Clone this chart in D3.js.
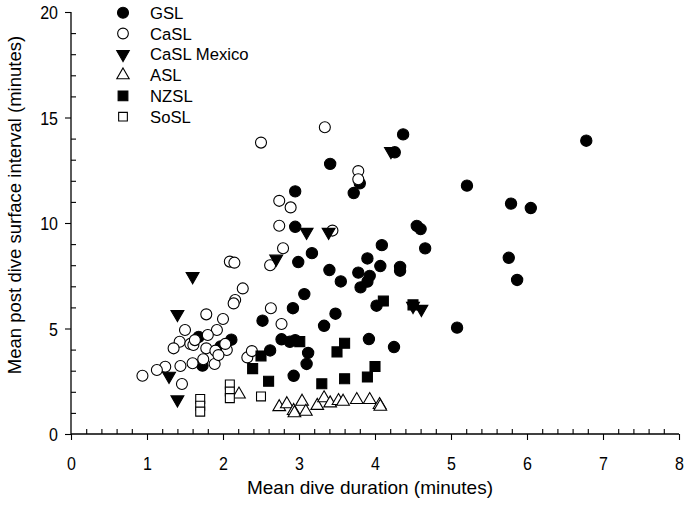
<!DOCTYPE html>
<html><head><meta charset="utf-8">
<script src="https://cdn.jsdelivr.net/npm/d3@7"></script>
<style>body{margin:0;background:#fff}svg{display:block}text{font-family:"Liberation Sans",Arial,sans-serif}</style>
</head><body>
<svg id="c" width="685" height="509"></svg>
<script>
const seriesNames = ["GSL","CaSL","CaSL Mexico","ASL","NZSL","SoSL"];
const GSL = [[6.78,13.9],[4.37,14.2],[4.26,13.35],[3.41,12.8],[5.21,11.77],[3.80,11.88],[3.72,11.42],[2.95,11.5],[5.79,10.92],[6.05,10.71],[2.95,9.82],[4.55,9.86],[4.60,9.71],[4.66,8.8],[4.09,8.95],[3.17,8.57],[2.99,8.15],[3.90,8.32],[5.76,8.35],[4.07,7.96],[4.33,7.92],[4.33,7.74],[3.40,7.77],[3.78,7.65],[3.93,7.49],[3.90,7.22],[3.55,7.23],[3.81,6.95],[5.87,7.3],[3.07,6.63],[4.02,6.08],[2.92,5.96],[3.48,5.7],[2.52,5.37],[3.33,5.13],[5.08,5.04],[2.77,4.49],[2.88,4.37],[2.95,4.45],[3.92,4.5],[4.25,4.12],[2.62,3.96],[3.12,3.84],[3.10,3.32],[2.93,2.76],[2.11,4.47],[1.68,4.6],[1.73,3.24],[1.97,4.15]];
const CaSL = [[3.34,14.54],[2.50,13.81],[3.78,12.46],[3.78,12.07],[2.74,11.05],[2.89,10.74],[2.74,9.87],[3.44,9.64],[2.79,8.8],[2.09,8.17],[2.15,8.12],[2.62,8.0],[2.26,6.9],[2.16,6.35],[2.14,6.19],[2.63,5.96],[2.77,5.21],[1.78,5.67],[2.0,5.45],[1.5,4.93],[1.92,4.93],[1.8,4.69],[1.43,4.37],[1.35,4.06],[1.57,4.27],[1.61,4.22],[1.63,4.45],[1.78,4.06],[1.9,3.95],[2.05,3.98],[2.03,4.27],[2.32,3.63],[2.38,3.93],[1.74,3.54],[1.89,3.32],[1.94,3.74],[1.6,3.35],[1.44,3.22],[1.24,3.19],[1.13,3.03],[0.94,2.76],[1.46,2.37]];
const CaSLMexico = [[4.21,13.4],[3.10,9.57],[3.39,9.57],[2.70,8.3],[1.60,7.47],[1.40,5.68],[1.29,2.75],[1.40,1.63],[4.50,6.06],[4.61,5.92]];
const ASL = [[2.21,1.88],[2.74,1.28],[2.84,1.42],[2.93,1.1],[2.94,0.99],[3.04,1.54],[3.09,1.06],[3.24,1.34],[3.33,1.7],[3.41,1.46],[3.52,1.57],[3.58,1.54],[3.76,1.62],[3.93,1.62],[4.06,1.38],[4.07,1.3]];
const NZSL = [[4.11,6.3],[4.50,6.12],[3.60,4.3],[3.50,3.89],[4.00,3.2],[3.90,2.7],[3.60,2.62],[3.30,2.38],[3.01,4.38],[2.50,3.7],[2.39,3.1],[2.60,2.5]];
const SoSL = [[1.70,1.66],[1.70,1.34],[1.70,1.06],[2.09,2.35],[2.09,2.01],[2.09,1.7],[2.50,1.78]];
const xTicks = [0,1,2,3,4,5,6,7,8];
const yTicks = [0,5,10,15,20];
const xLabel = "Mean dive duration (minutes)";
const yLabel = "Mean post dive surface interval (minutes)";

const svg = d3.select("#c");
const x = d3.scaleLinear().domain([0,8]).range([71,679]);
const y = d3.scaleLinear().domain([0,20]).range([434,12]);

const series = [
  {name:seriesNames[0], data:GSL, type:d3.symbolCircle, size:100, fill:"#000", rot:0},
  {name:seriesNames[1], data:CaSL, type:d3.symbolCircle, size:95, fill:"#fff", rot:0},
  {name:seriesNames[2], data:CaSLMexico, type:d3.symbolTriangle, size:72, fill:"#000", rot:180},
  {name:seriesNames[3], data:ASL, type:d3.symbolTriangle, size:70, fill:"#fff", rot:0},
  {name:seriesNames[4], data:NZSL, type:d3.symbolSquare, size:100, fill:"#000", rot:0},
  {name:seriesNames[5], data:SoSL, type:d3.symbolSquare, size:80, fill:"#fff", rot:0}
];

// axes
const gx = svg.append("g").attr("transform","translate(0,434)");
gx.call(d3.axisBottom(x).tickValues(xTicks).tickSize(6).tickFormat(d3.format("d")));
const minorX = d3.range(0,8.001,0.2).filter(v=>Math.abs(v-Math.round(v))>1e-6);
gx.append("g").call(d3.axisBottom(x).tickValues(minorX).tickSize(-5).tickFormat(""));
const gy = svg.append("g").attr("transform","translate(71,0)");
gy.call(d3.axisLeft(y).tickValues(yTicks).tickSize(6).tickFormat(d3.format("d")));
const minorY = d3.range(0,21,1).filter(v=>v%5!==0);
gy.append("g").call(d3.axisLeft(y).tickValues(minorY).tickSize(-5).tickFormat(""));
svg.selectAll(".domain").attr("stroke","#000").attr("stroke-width",1.3);
svg.selectAll("g.tick line").attr("stroke","#000").attr("stroke-width",1.1);
svg.selectAll("g > g > .domain").remove();
gx.selectAll("g.tick text").attr("font-size",16).attr("fill","#000")
  .attr("y",30).attr("dy",0).attr("transform","scale(1,1.2)");
gy.selectAll("g.tick text").attr("font-size",16).attr("fill","#000")
  .attr("x",-13).attr("dy","0.36em").attr("transform","scale(1,1.2)");
gx.selectAll(".domain").attr("d","M71,0H679");
gy.selectAll(".domain").attr("d","M0,12V434");

// points
series.forEach(s=>{
  const sym = d3.symbol().type(s.type).size(s.size);
  svg.append("g").selectAll("path").data(s.data).join("path")
    .attr("d",sym)
    .attr("transform",d=>`translate(${x(d[0])},${y(d[1])}) rotate(${s.rot})`)
    .attr("fill",s.fill).attr("stroke","#000").attr("stroke-width",1.1);
});

// legend
const lg = svg.append("g");
series.forEach((s,i)=>{
  const yy = 12.7 + i*20.8;
  lg.append("path").attr("d",d3.symbol().type(s.type).size(s.size*0.95)())
    .attr("transform",`translate(123,${yy}) rotate(${s.rot})`)
    .attr("fill",s.fill).attr("stroke","#000").attr("stroke-width",1.1);
  lg.append("text").attr("x",150).attr("y",yy).attr("dy","0.37em").attr("font-size",16.7).text(s.name);
});

// axis titles
svg.append("text").attr("x",370).attr("y",494).attr("text-anchor","middle").attr("font-size",19).text(xLabel);
svg.append("text").attr("transform","translate(21,205) rotate(-90)").attr("text-anchor","middle").attr("font-size",18.5).text(yLabel);
</script>
</body></html>
